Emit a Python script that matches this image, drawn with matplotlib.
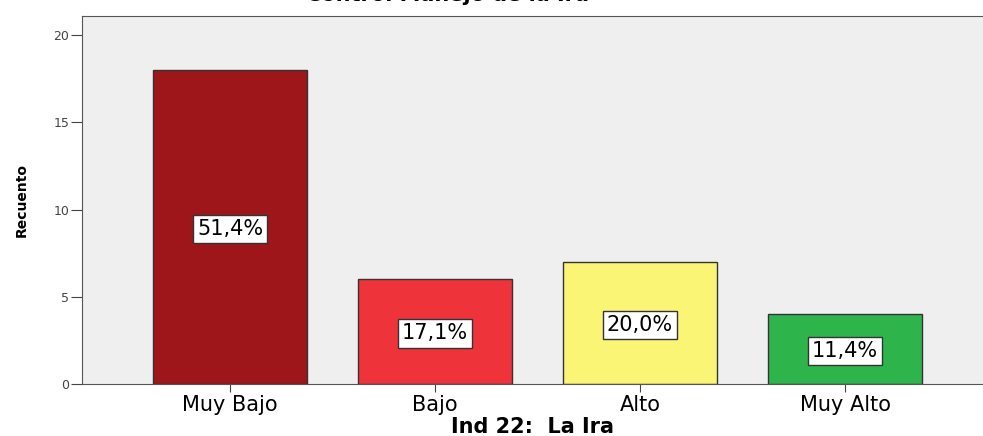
import matplotlib.pyplot as plt

categories = ["Muy Bajo", "Bajo", "Alto", "Muy Alto"]
counts = [18, 6, 7, 4]
percent_labels = ["51,4%", "17,1%", "20,0%", "11,4%"]
bar_colors = ["#9E151A", "#EF333B", "#FAF574", "#2DB54B"]

fig = plt.figure(figsize=(9.83, 4.36), dpi=100)
ax = fig.add_axes([82 / 983, 1 - 384 / 436, 1 - 82 / 983, (384 - 16) / 436])
ax.set_facecolor("#EFEFEF")

x = list(range(len(categories)))
ax.bar(x, counts, width=0.75, color=bar_colors, edgecolor="#333333", linewidth=1.0, zorder=2)

# percentage boxes in the middle of each bar
for xi, v, lab in zip(x, counts, percent_labels):
    ax.text(xi, v / 2 - 0.1, lab, ha="center", va="center", fontsize=15,
            zorder=3,
            bbox=dict(boxstyle="square,pad=0.2", facecolor="white", edgecolor="#333333", linewidth=1))

ax.set_xlim(-0.722, 3.673)
ax.set_ylim(0, 21.1)
ax.set_yticks([0, 5, 10, 15, 20])
ax.set_xticks(x)
ax.set_xticklabels(categories, fontsize=15)
ax.tick_params(axis="y", labelsize=9, labelcolor="#444444", length=8, color="#444444", pad=1)
ax.tick_params(axis="x", length=6, color="#444444", pad=2)
for side in ["left", "bottom", "top"]:
    ax.spines[side].set_color("#555555")
ax.spines["right"].set_visible(False)

ax.set_xlabel("Ind 22:  La Ira", fontsize=15, fontweight="bold", labelpad=1)
ax.set_ylabel("Recuento", fontsize=10, fontweight="bold", labelpad=18)

# title cut off at the top of the picture, as in the source image
fig.text(0.455, 1.0 - 1 / 436, "Control Manejo de la Ira", ha="center", va="baseline",
         fontsize=15, fontweight="bold")

fig.savefig("out.png", dpi=100)
